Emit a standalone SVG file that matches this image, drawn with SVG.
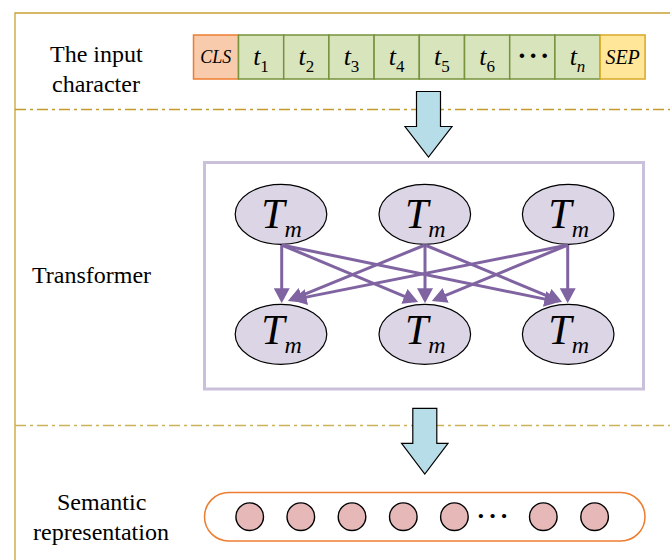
<svg xmlns="http://www.w3.org/2000/svg" width="670" height="560" viewBox="0 0 670 560">
  <defs>
    <style>
      text { font-family: "Liberation Serif", "Times New Roman", serif; fill: #000; }
      .label { font-size: 24px; }
      .tok-cls { fill: #f8cbad; stroke: #ed7d31; stroke-width: 1.5; }
      .tok { fill: #d8e4bc; stroke: #77933c; stroke-width: 1.5; }
      .tok-sep { fill: #ffe699; stroke: #d9a826; stroke-width: 1.5; }
      .tok-text { font-style: italic; text-anchor: middle; }
      .sub { font-style: normal; }
      .dots { font-weight: bold; text-anchor: middle; }
      .frame { fill: none; stroke: #c8a035; stroke-width: 1.3; }
      .divider { fill: none; stroke-width: 1.5; stroke-dasharray: 11 4 3 4; }
      .flow { fill: #b7dde8; stroke: #000; stroke-width: 1.2; }
      .tbox { fill: none; stroke: #cbc0dc; stroke-width: 3; }
      .tm { fill: #dcd5e5; stroke: #000; stroke-width: 1.2; }
      .tm-text { font-style: italic; font-size: 42px; text-anchor: middle; }
      .link { fill: none; stroke: #8064a2; stroke-width: 3; marker-end: url(#head); }
      .vec { fill: #e6b9b8; stroke: #000; stroke-width: 1.4; }
    </style>
    <marker id="head" markerUnits="userSpaceOnUse" markerWidth="15" markerHeight="16" viewBox="0 0 14 15" refX="11" refY="7.5" orient="auto">
      <path d="M0,0 L14,7.5 L0,15 z" fill="#8064a2"/>
    </marker>
  </defs>

  <!-- outer frame (top and left edges) and stage dividers -->
  <g id="frame">
    <path class="frame" d="M15,560 V13 H670"/>
    <path class="divider" d="M15,109.5 H670" stroke="#c49a2c"/>
    <path class="divider" d="M15,425.5 H670" stroke="#cbb35a"/>
  </g>

  <!-- row labels -->
  <g id="label-input">
    <text class="label" x="50" y="62">The input</text>
    <text class="label" x="52" y="92">character</text>
  </g>
  <g id="label-transformer">
    <text class="label" x="32" y="283">Transformer</text>
  </g>
  <g id="label-semantic">
    <text class="label" x="57" y="510">Semantic</text>
    <text class="label" x="33" y="540">representation</text>
  </g>

  <!-- input token sequence -->
  <g id="tok-cls">
    <rect class="tok-cls" x="193.5" y="35" width="45" height="44"/>
    <text class="tok-text" x="215.8" y="63" font-size="18">CLS</text>
  </g>
  <g id="tok-1">
    <rect class="tok" x="238.5" y="35" width="45.2" height="44"/>
    <text class="tok-text" x="261" y="64.5" font-size="26">t<tspan class="sub" font-size="17" dy="7">1</tspan></text>
  </g>
  <g id="tok-2">
    <rect class="tok" x="283.7" y="35" width="45.2" height="44"/>
    <text class="tok-text" x="306.3" y="64.5" font-size="26">t<tspan class="sub" font-size="17" dy="7">2</tspan></text>
  </g>
  <g id="tok-3">
    <rect class="tok" x="328.9" y="35" width="45.2" height="44"/>
    <text class="tok-text" x="351.5" y="64.5" font-size="26">t<tspan class="sub" font-size="17" dy="7">3</tspan></text>
  </g>
  <g id="tok-4">
    <rect class="tok" x="374.1" y="35" width="45.2" height="44"/>
    <text class="tok-text" x="396.7" y="64.5" font-size="26">t<tspan class="sub" font-size="17" dy="7">4</tspan></text>
  </g>
  <g id="tok-5">
    <rect class="tok" x="419.3" y="35" width="45.2" height="44"/>
    <text class="tok-text" x="441.9" y="64.5" font-size="26">t<tspan class="sub" font-size="17" dy="7">5</tspan></text>
  </g>
  <g id="tok-6">
    <rect class="tok" x="464.5" y="35" width="45.2" height="44"/>
    <text class="tok-text" x="487.1" y="64.5" font-size="26">t<tspan class="sub" font-size="17" dy="7">6</tspan></text>
  </g>
  <g id="tok-ellipsis">
    <rect class="tok" x="509.7" y="35" width="45.2" height="44"/>
    <text class="dots" x="534.3" y="65" font-size="28" letter-spacing="2">···</text>
  </g>
  <g id="tok-n">
    <rect class="tok" x="554.9" y="35" width="45.2" height="44"/>
    <text class="tok-text" x="577.5" y="64.5" font-size="26">t<tspan font-size="17" dy="7">n</tspan></text>
  </g>
  <g id="tok-sep">
    <rect class="tok-sep" x="600.1" y="35" width="45" height="44"/>
    <text class="tok-text" x="622.6" y="64" font-size="20">SEP</text>
  </g>

  <!-- block arrows between stages -->
  <g id="flow-1">
    <path class="flow" d="M416.5,91.5 H440.5 V126.5 H452 L428.5,157 L405,126.5 H416.5 Z"/>
  </g>
  <g id="flow-2">
    <path class="flow" d="M412.8,408.3 H436.8 V443.3 H448 L424.8,474 L401.6,443.3 H412.8 Z"/>
  </g>

  <!-- transformer block -->
  <g id="transformer">
    <rect class="tbox" x="204.5" y="162.5" width="439" height="226.5"/>
  </g>

  <!-- transformer units -->
  <g id="tm-top-1">
    <ellipse class="tm" cx="281" cy="214.3" rx="45.8" ry="30"/>
    <text class="tm-text" x="281.5" y="227.5">T<tspan font-size="24" dy="9">m</tspan></text>
  </g>
  <g id="tm-top-2">
    <ellipse class="tm" cx="424.8" cy="214.3" rx="45.8" ry="30"/>
    <text class="tm-text" x="425.3" y="227.5">T<tspan font-size="24" dy="9">m</tspan></text>
  </g>
  <g id="tm-top-3">
    <ellipse class="tm" cx="568.2" cy="214.3" rx="45.8" ry="30"/>
    <text class="tm-text" x="568.7" y="227.5">T<tspan font-size="24" dy="9">m</tspan></text>
  </g>
  <g id="tm-bottom-1">
    <ellipse class="tm" cx="281" cy="334.3" rx="45.8" ry="30"/>
    <text class="tm-text" x="281.5" y="344">T<tspan font-size="24" dy="9">m</tspan></text>
  </g>
  <g id="tm-bottom-2">
    <ellipse class="tm" cx="424.8" cy="334.3" rx="45.8" ry="30"/>
    <text class="tm-text" x="425.3" y="344">T<tspan font-size="24" dy="9">m</tspan></text>
  </g>
  <g id="tm-bottom-3">
    <ellipse class="tm" cx="568.2" cy="334.3" rx="45.8" ry="30"/>
    <text class="tm-text" x="568.7" y="344">T<tspan font-size="24" dy="9">m</tspan></text>
  </g>

  <!-- attention links: every upper unit feeds every lower unit -->
  <g id="connectors">
    <path class="link" d="M281.7,245 L281.7,300"/>
    <path class="link" d="M281.7,245 L415.2,300.8"/>
    <path class="link" d="M281.7,245 L556.1,301.4"/>
    <path class="link" d="M425,245 L290.8,299.9"/>
    <path class="link" d="M425,245 L425,300"/>
    <path class="link" d="M425,245 L559.2,300.8"/>
    <path class="link" d="M567.7,245 L294.9,299.4"/>
    <path class="link" d="M567.7,245 L434.8,299.9"/>
    <path class="link" d="M567.7,245 L567.7,300"/>
  </g>

  <!-- semantic representation vector -->
  <g id="semantic">
    <rect x="204.5" y="492.5" width="440.5" height="48.5" rx="24.25" fill="#fff" stroke="#ed7d31" stroke-width="1.5"/>
    <circle class="vec" cx="249.7" cy="516.7" r="13.8"/>
    <circle class="vec" cx="300.8" cy="516.7" r="13.8"/>
    <circle class="vec" cx="352" cy="516.7" r="13.8"/>
    <circle class="vec" cx="403.3" cy="516.7" r="13.8"/>
    <circle class="vec" cx="454.4" cy="516.7" r="13.8"/>
    <text class="dots" x="494" y="524" font-size="26" letter-spacing="3">···</text>
    <circle class="vec" cx="543.3" cy="516.7" r="13.8"/>
    <circle class="vec" cx="594.6" cy="516.7" r="13.8"/>
  </g>
</svg>
